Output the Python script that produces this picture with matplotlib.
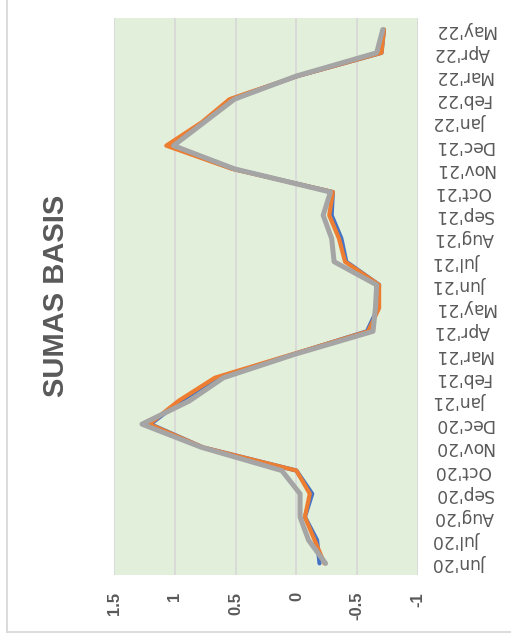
import matplotlib
matplotlib.use("Agg")
import matplotlib.pyplot as plt
from matplotlib.lines import Line2D

months = ["Jun'20", "Jul'20", "Aug'20", "Sep'20", "Oct'20", "Nov'20", "Dec'20",
          "Jan'21", "Feb'21", "Mar'21", "Apr'21", "May'21", "Jun'21", "Jul'21",
          "Aug'21", "Sep'21", "Oct'21", "Nov'21", "Dec'21", "Jan'22", "Feb'22",
          "Mar'22", "Apr'22", "May'22"]

series_blue = [-0.19, -0.17, -0.07, -0.13, 0.00, 0.77, 1.20, 0.95, 0.65, 0.03, -0.58, -0.67,
               -0.68, -0.41, -0.37, -0.29, -0.30, 0.52, 1.05, 0.77, 0.54, -0.01, -0.70, -0.72]
series_orange = [-0.23, -0.15, -0.07, -0.11, 0.00, 0.77, 1.21, 0.97, 0.67, 0.04, -0.59, -0.68,
                 -0.68, -0.40, -0.35, -0.27, -0.30, 0.53, 1.07, 0.78, 0.55, -0.01, -0.70, -0.72]
series_gray = [-0.24, -0.10, -0.03, -0.03, 0.12, 0.78, 1.27, 0.88, 0.60, 0.02, -0.63, -0.65,
               -0.66, -0.31, -0.29, -0.22, -0.28, 0.51, 1.01, 0.76, 0.51, 0.00, -0.66, -0.71]

value_ticks = [1.5, 1, 0.5, 0, -0.5, -1]
value_labels = ["1.5", "1", "0.5", "0", "-0.5", "-1"]
title = "SUMAS BASIS"

txt = "#595959"
grid = "#D9D9D9"

fig = plt.figure(figsize=(5.11, 6.35), dpi=100)
fig.patch.set_facecolor("white")
ax = fig.add_axes([114 / 511, 1 - 575 / 635, (418 - 114) / 511, (575 - 18) / 635])
ax.set_facecolor("#E2EFDA")

idx = list(range(len(months)))
ax.plot(series_blue, idx, color="#4472C4", lw=3.0, solid_joinstyle="round", solid_capstyle="round", zorder=3)
ax.plot(series_orange, idx, color="#ED7D31", lw=3.0, solid_joinstyle="round", solid_capstyle="round", zorder=4)
ax.plot(series_gray, idx, color="#A5A5A5", lw=3.6, solid_joinstyle="round", solid_capstyle="round", zorder=5)

ax.set_xlim(1.5, -1)
ax.set_ylim(-0.5, len(months) - 0.5)
for v in value_ticks:
    ax.axvline(v, color=grid, lw=1.3, zorder=1)
for s in ax.spines.values():
    s.set_visible(False)
ax.set_xticks([])
ax.set_yticks([])

# value labels (rotated)
for v, lab in zip(value_ticks, value_labels):
    ax.annotate(lab, xy=(v, 0), xycoords=("data", "axes fraction"), xytext=(0, -17),
                textcoords="offset pixels", rotation=90, ha="center", va="top",
                fontsize=12, fontweight="bold", color=txt, family="Liberation Sans")

# month labels (upside down)
for i, m in enumerate(months):
    ax.annotate(m, xy=(1, i), xycoords=("axes fraction", "data"), xytext=(16, 0),
                textcoords="offset pixels", rotation=180, ha="left", va="center",
                fontsize=12.3, color=txt, family="DejaVu Sans")

fig.text(56 / 511, 1 - 296 / 635, title, rotation=90, ha="center", va="center",
         fontsize=21, fontweight="bold", color=txt, family="Liberation Sans")

# chart area border (partially visible)
fig.add_artist(Line2D([7 / 511, 7 / 511], [1 - 632 / 635, 1.0], transform=fig.transFigure,
                      color=grid, lw=1.3))
fig.add_artist(Line2D([7 / 511, 1.0], [1 - 632 / 635, 1 - 632 / 635], transform=fig.transFigure,
                      color=grid, lw=1.3))

fig.savefig("out.png", dpi=100, facecolor="white")
